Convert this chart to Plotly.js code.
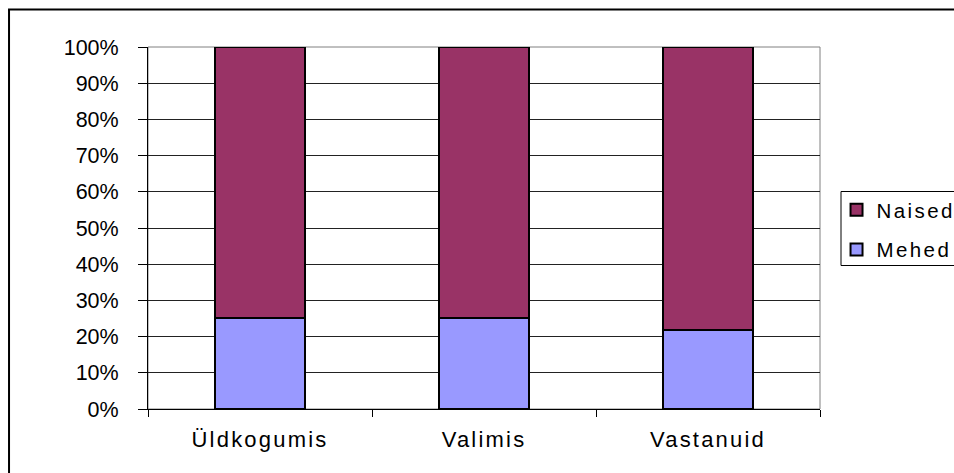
<!DOCTYPE html>
<html>
<head>
<meta charset="utf-8">
<script src="https://cdn.plot.ly/plotly-3.0.1.min.js"></script>
<style>
  html, body { margin: 0; padding: 0; background: #fff; overflow: hidden; }
  #chart { width: 954px; height: 473px; }
  .xtick text { letter-spacing: 2.2px; }
  .legendtext { letter-spacing: 2.4px; }
</style>
</head>
<body>
<div id="chart"></div>
<script>
// Data (percent of each group)
const categories = ['Üldkogumis', 'Valimis', 'Vastanuid'];
const mehed  = [25.2, 25.2, 21.9];
const naised = [74.8, 74.8, 78.1];
const yTickValues = [0, 10, 20, 30, 40, 50, 60, 70, 80, 90, 100];
const yTickLabels = ['0%', '10%', '20%', '30%', '40%', '50%', '60%', '70%', '80%', '90%', '100%'];

const FONT = '"Liberation Sans", Arial, sans-serif';

const traces = [
  {
    type: 'bar', name: 'Mehed', x: categories, y: mehed,
    legendgroup: 'm', legendrank: 2,
    marker: { color: '#9999FF', line: { color: '#000000', width: 2 } },
    hoverinfo: 'x+y+name'
  },
  {
    type: 'bar', name: 'Naised', x: categories, y: naised,
    legendgroup: 'n', legendrank: 1,
    marker: { color: '#993366', line: { color: '#000000', width: 2 } },
    hoverinfo: 'x+y+name'
  }
];

const layout = {
  width: 954, height: 473,
  margin: { l: 148, r: 134, t: 47, b: 64, pad: 0, autoexpand: false },
  paper_bgcolor: '#ffffff', plot_bgcolor: '#ffffff',
  barmode: 'stack', bargap: 0.6,
  font: { family: FONT, color: '#000000', size: 21 },
  showlegend: true,
  legend: {
    x: 1.0246, xanchor: 'left', y: 0.605, yanchor: 'top',
    bgcolor: 'rgba(0,0,0,0)', borderwidth: 0,
    traceorder: 'grouped', tracegroupgap: 10,
    font: { family: FONT, size: 20.5, color: '#000000' }
  },
  xaxis: {
    type: 'category', range: [-0.5, 2.5],
    showline: true, linecolor: '#000000', linewidth: 1,
    ticks: 'outside', tickson: 'boundaries', ticklen: 7, tickcolor: '#000000', tickwidth: 1,
    showgrid: false, zeroline: false,
    tickfont: { family: FONT, size: 22, color: '#000000' },
    ticklabelstandoff: 11
  },
  yaxis: {
    range: [0, 100], tickvals: yTickValues, ticktext: yTickLabels,
    showline: true, linecolor: '#000000', linewidth: 1,
    ticks: 'outside', ticklen: 9, tickcolor: '#000000', tickwidth: 1,
    showgrid: true, gridcolor: '#222222', gridwidth: 1, zeroline: false,
    tickfont: { family: FONT, size: 21.5, color: '#000000' },
    ticklabelstandoff: 15
  },
  shapes: [
    // plot-area border (grey, top/right visible)
    { type: 'rect', xref: 'paper', yref: 'paper', x0: 0, x1: 1, y0: 0, y1: 1,
      line: { color: '#808080', width: 1 }, layer: 'below' },
    // outer chart frame (extends past the picture on right/bottom)
    { type: 'rect', xref: 'paper', yref: 'paper', x0: -0.2068, x1: 1.25, y0: -0.25, y1: 1.1036,
      line: { color: '#000000', width: 2 }, fillcolor: 'rgba(0,0,0,0)' },
    // legend box
    { type: 'rect', xref: 'paper', yref: 'paper', x0: 1.03125, x1: 1.25, y0: 0.3964, y1: 0.6008,
      line: { color: '#000000', width: 1 }, fillcolor: 'rgba(0,0,0,0)' }
  ]
};

Plotly.newPlot('chart', traces, layout, { displayModeBar: false, staticPlot: true });
</script>
</body>
</html>
